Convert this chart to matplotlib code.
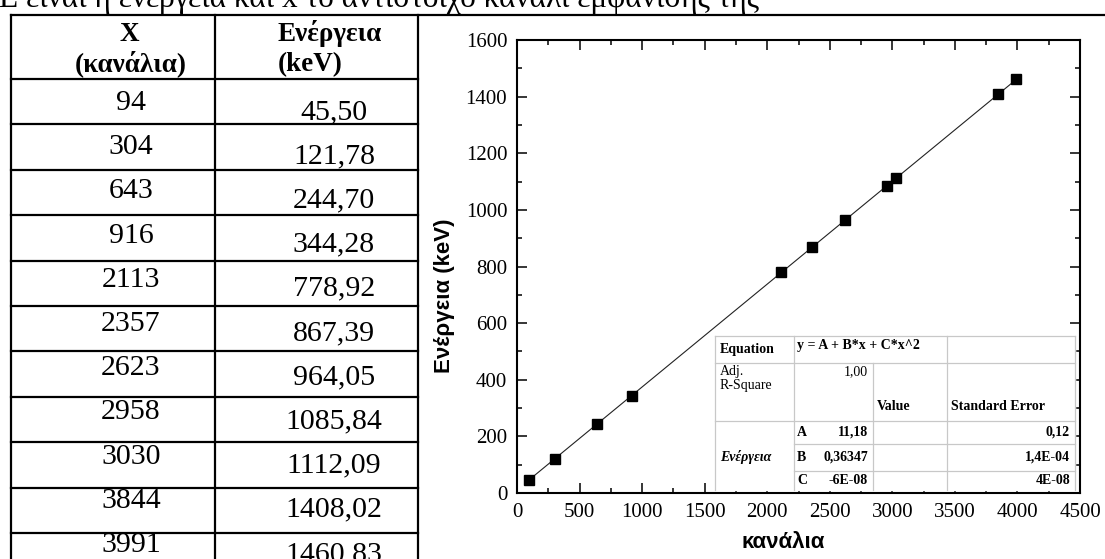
import numpy as np
import matplotlib.pyplot as plt
from matplotlib.ticker import MultipleLocator

# calibration points: channel -> energy (keV)
channels = [94, 304, 643, 916, 2113, 2357, 2623, 2958, 3030, 3844, 3991]
energies = [45.50, 121.78, 244.70, 344.28, 778.92, 867.39, 964.05,
            1085.84, 1112.09, 1408.02, 1460.83]

# quadratic fit y = A + B*x + C*x^2
fit_names = ["A", "B", "C"]
fit_values = [11.18, 0.36347, -6e-08]
fit_errors = [0.12, 1.4e-04, 4e-08]
adj_r2 = 1.00

caption = "E είναι η ενέργεια και x το αντίστοιχο κανάλι εμφάνισης της"
col_headers = [["X", "(κανάλια)"], ["Ενέργεια", "(keV)"]]

SERIF = "Liberation Serif"
SANS = "Liberation Sans"


def comma(v, fmt):
    return format(v, fmt).replace(".", ",")


W, H = 1105, 559
fig = plt.figure(figsize=(W / 100, H / 100), dpi=100)
fig.patch.set_facecolor("white")

# page layer in pixel units: caption line and the data table
page = fig.add_axes([0, 0, 1, 1], zorder=0)
page.set_xlim(0, W)
page.set_ylim(H, 0)
page.axis("off")

page.text(-1, 7, caption, family=SERIF, fontsize=22.5, va="baseline", ha="left")

row0, row_h = 79, 45.4
col_x = [11, 215, 418]
lw_tab = 1.6
page.plot([col_x[0], W], [15, 15], color="black", lw=lw_tab)
for x in col_x:
    page.plot([x, x], [15, H], color="black", lw=lw_tab)
for k in range(len(channels)):
    y = row0 + k * row_h
    page.plot([col_x[0], col_x[2]], [y, y], color="black", lw=lw_tab)

page.text(129, 41, col_headers[0][0], family=SERIF, fontweight="bold",
          fontsize=19.5, ha="center", va="baseline")
page.text(131, 71, col_headers[0][1], family=SERIF, fontweight="bold",
          fontsize=19.5, ha="center", va="baseline")
page.text(278, 41, col_headers[1][0], family=SERIF, fontweight="bold",
          fontsize=19.5, ha="left", va="baseline")
page.text(278, 71, col_headers[1][1], family=SERIF, fontweight="bold",
          fontsize=19.5, ha="left", va="baseline")

for k, (ch, en) in enumerate(zip(channels, energies)):
    page.text(131, 110 + 44.2 * k, str(ch), family=SERIF, fontsize=21.5,
              ha="center", va="baseline")
    page.text(334, 119 + 44.2 * k, comma(en, ".2f"), family=SERIF,
              fontsize=21.5, ha="center", va="baseline")

# calibration plot
ax = fig.add_axes([517 / W, (H - 493) / H, 563 / W, 453 / H], zorder=2)
xs = np.linspace(min(channels), max(channels), 300)
A, B, C = fit_values
ax.plot(xs, A + B * xs + C * xs ** 2, color="#222222", lw=0.8, zorder=2)
ax.plot(channels, energies, "s", color="black", markersize=7, zorder=3)

ax.set_xlim(0, 4500)
ax.set_ylim(0, 1600)
ax.xaxis.set_major_locator(MultipleLocator(500))
ax.xaxis.set_minor_locator(MultipleLocator(250))
ax.yaxis.set_major_locator(MultipleLocator(200))
ax.yaxis.set_minor_locator(MultipleLocator(100))
ax.tick_params(which="both", direction="in", top=True, right=True,
               width=1.1, color="black")
ax.tick_params(which="major", length=7, pad=7, labelsize=15)
ax.tick_params(which="minor", length=3.6)
for lab in ax.get_xticklabels() + ax.get_yticklabels():
    lab.set_family(SERIF)
for sp in ax.spines.values():
    sp.set_linewidth(1.5)

ax.set_xlabel("κανάλια", family=SANS, fontweight="bold", fontsize=16)
ax.xaxis.set_label_coords(0.472, -0.085)
ax.set_ylabel("Ενέργεια (keV)", family=SANS, fontweight="bold", fontsize=16)
ax.yaxis.label.set_verticalalignment("center")
ax.yaxis.set_label_coords(-0.128, 0.435)

# fit results box, drawn in pixel units over the plot
box = fig.add_axes([0, 0, 1, 1], zorder=5)
box.set_xlim(0, W)
box.set_ylim(H, 0)
box.axis("off")
bx = [715, 794, 873, 947, 1075]
by = [336, 363, 421, 444, 471, 490]
box.fill_between([bx[0], bx[-1]], by[0], by[-1], color="white", zorder=0)
grid = dict(color="#c8c8c8", lw=0.9, zorder=1)
box.plot([bx[0], bx[-1]], [by[0], by[0]], **grid)
box.plot([bx[0], bx[-1]], [by[1], by[1]], **grid)
box.plot([bx[0], bx[-1]], [by[2], by[2]], **grid)
box.plot([bx[1], bx[-1]], [by[3], by[3]], **grid)
box.plot([bx[1], bx[-1]], [by[4], by[4]], **grid)
box.plot([bx[0], bx[0]], [by[0], by[-1]], **grid)
box.plot([bx[1], bx[1]], [by[0], by[-1]], **grid)
box.plot([bx[2], bx[2]], [by[1], by[-1]], **grid)
box.plot([bx[3], bx[3]], [by[0], by[-1]], **grid)
box.plot([bx[4], bx[4]], [by[0], by[-1]], **grid)

fs = 10
bold = dict(family=SERIF, fontsize=fs, fontweight="bold", va="center")
plain = dict(family=SERIF, fontsize=fs, va="center")
box.text(720, 350, "Equation", ha="left", **bold)
box.text(797, 346, "y = A + B*x + C*x^2", ha="left", **bold)
box.text(720, 372, "Adj.", ha="left", **plain)
box.text(720, 386, "R-Square", ha="left", **plain)
box.text(868, 372, comma(adj_r2, ".2f"), ha="right", **plain)
box.text(877, 407, "Value", ha="left", **bold)
box.text(951, 407, "Standard Error", ha="left", **bold)
box.text(720, 457, "Ενέργεια", ha="left", style="italic", **bold)

value_fmt = [".2f", ".5f", ".0E"]
error_fmt = [".2f", ".1E", ".0E"]
for k, name in enumerate(fit_names):
    yc = (by[k + 2] + by[k + 3]) / 2
    box.text(797, yc, name, ha="left", **bold)
    box.text(868, yc, comma(fit_values[k], value_fmt[k]), ha="right", **bold)
    box.text(1070, yc, comma(fit_errors[k], error_fmt[k]), ha="right", **bold)

fig.savefig("out.png", dpi=100, facecolor="white")
